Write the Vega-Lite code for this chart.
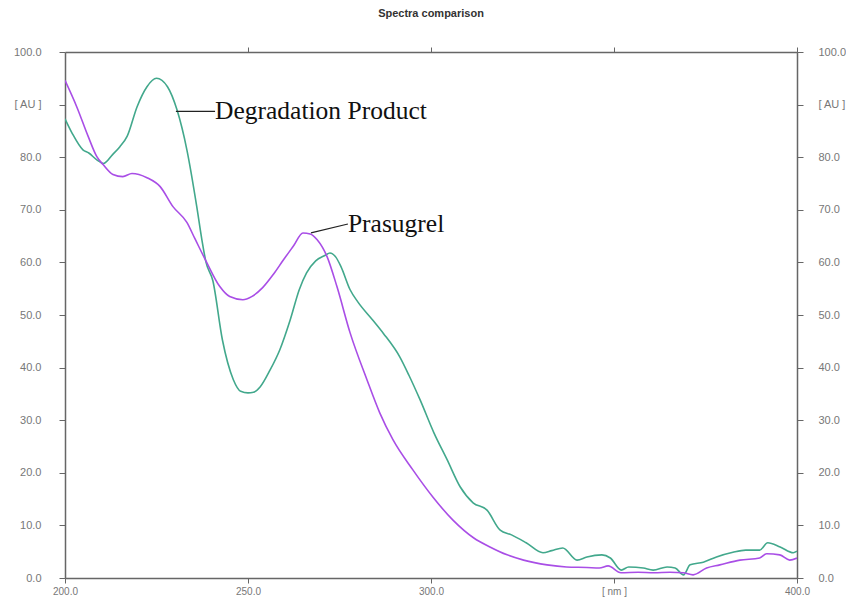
{
  "$schema": "https://vega.github.io/schema/vega-lite/v6.json",
  "width": 732,
  "height": 526,
  "autosize": {"type": "none"},
  "padding": {"left": 65, "top": 52, "right": 49, "bottom": 27},
  "background": "white",
  "title": {"text": "Spectra comparison", "fontSize": 11, "fontWeight": "bold", "font": "Liberation Sans", "color": "#333333", "offset": 27, "anchor": "middle"},
  "config": {
    "view": {"stroke": null},
    "axis": {"grid": false, "domainColor": "#666666", "tickColor": "#666666", "domainWidth": 1.5, "tickWidth": 1, "tickSize": 6, "labelFont": "Liberation Sans", "labelFontSize": 11, "labelColor": "#777777", "title": null}
  },
  "datasets": {
    "spectra": [
      {"series": "Degradation Product", "nm": 200, "au": 87.3},
      {"series": "Degradation Product", "nm": 202, "au": 84.5},
      {"series": "Degradation Product", "nm": 204.9, "au": 81.4},
      {"series": "Degradation Product", "nm": 206.5, "au": 80.8},
      {"series": "Degradation Product", "nm": 208.7, "au": 79.5},
      {"series": "Degradation Product", "nm": 210.5, "au": 78.8},
      {"series": "Degradation Product", "nm": 213, "au": 80.5},
      {"series": "Degradation Product", "nm": 215, "au": 82},
      {"series": "Degradation Product", "nm": 217, "au": 84},
      {"series": "Degradation Product", "nm": 219.7, "au": 89.6},
      {"series": "Degradation Product", "nm": 222.4, "au": 93.4},
      {"series": "Degradation Product", "nm": 225, "au": 95},
      {"series": "Degradation Product", "nm": 228, "au": 93.4},
      {"series": "Degradation Product", "nm": 230.6, "au": 89},
      {"series": "Degradation Product", "nm": 233.3, "au": 81.4},
      {"series": "Degradation Product", "nm": 236, "au": 70.6},
      {"series": "Degradation Product", "nm": 237.4, "au": 64.3},
      {"series": "Degradation Product", "nm": 238.5, "au": 60.1},
      {"series": "Degradation Product", "nm": 240.4, "au": 56.5},
      {"series": "Degradation Product", "nm": 243, "au": 45.3},
      {"series": "Degradation Product", "nm": 246, "au": 37.7},
      {"series": "Degradation Product", "nm": 248, "au": 35.5},
      {"series": "Degradation Product", "nm": 250, "au": 35.2},
      {"series": "Degradation Product", "nm": 251.5, "au": 35.3},
      {"series": "Degradation Product", "nm": 253.3, "au": 36.3},
      {"series": "Degradation Product", "nm": 256, "au": 39.5},
      {"series": "Degradation Product", "nm": 258.7, "au": 43.4},
      {"series": "Degradation Product", "nm": 261.5, "au": 49},
      {"series": "Degradation Product", "nm": 264, "au": 54.8},
      {"series": "Degradation Product", "nm": 266, "au": 58},
      {"series": "Degradation Product", "nm": 268.5, "au": 60.3},
      {"series": "Degradation Product", "nm": 271, "au": 61.3},
      {"series": "Degradation Product", "nm": 272.4, "au": 61.8},
      {"series": "Degradation Product", "nm": 274, "au": 61},
      {"series": "Degradation Product", "nm": 275.4, "au": 59.2},
      {"series": "Degradation Product", "nm": 277.9, "au": 54.8},
      {"series": "Degradation Product", "nm": 280, "au": 52.5},
      {"series": "Degradation Product", "nm": 284, "au": 49.1},
      {"series": "Degradation Product", "nm": 287, "au": 46.5},
      {"series": "Degradation Product", "nm": 291.5, "au": 42},
      {"series": "Degradation Product", "nm": 294, "au": 38.5},
      {"series": "Degradation Product", "nm": 297, "au": 33.9},
      {"series": "Degradation Product", "nm": 300.8, "au": 27.6},
      {"series": "Degradation Product", "nm": 304.4, "au": 22.5},
      {"series": "Degradation Product", "nm": 308, "au": 17.3},
      {"series": "Degradation Product", "nm": 311.5, "au": 14.3},
      {"series": "Degradation Product", "nm": 315.3, "au": 12.9},
      {"series": "Degradation Product", "nm": 318.9, "au": 9.1},
      {"series": "Degradation Product", "nm": 322, "au": 8.2},
      {"series": "Degradation Product", "nm": 326, "au": 6.7},
      {"series": "Degradation Product", "nm": 330.6, "au": 4.8},
      {"series": "Degradation Product", "nm": 333, "au": 5.2},
      {"series": "Degradation Product", "nm": 336, "au": 5.7},
      {"series": "Degradation Product", "nm": 339.9, "au": 3.4},
      {"series": "Degradation Product", "nm": 342.6, "au": 4},
      {"series": "Degradation Product", "nm": 346.7, "au": 4.4},
      {"series": "Degradation Product", "nm": 349, "au": 3.8},
      {"series": "Degradation Product", "nm": 352, "au": 1.5},
      {"series": "Degradation Product", "nm": 354, "au": 2.1},
      {"series": "Degradation Product", "nm": 358, "au": 1.9},
      {"series": "Degradation Product", "nm": 360.7, "au": 1.5},
      {"series": "Degradation Product", "nm": 364.5, "au": 2.1},
      {"series": "Degradation Product", "nm": 366.7, "au": 1.9},
      {"series": "Degradation Product", "nm": 369, "au": 0.6},
      {"series": "Degradation Product", "nm": 370.8, "au": 2.5},
      {"series": "Degradation Product", "nm": 374.4, "au": 3.0},
      {"series": "Degradation Product", "nm": 378, "au": 4},
      {"series": "Degradation Product", "nm": 382.5, "au": 4.9},
      {"series": "Degradation Product", "nm": 386, "au": 5.3},
      {"series": "Degradation Product", "nm": 389.8, "au": 5.3},
      {"series": "Degradation Product", "nm": 392, "au": 6.7},
      {"series": "Degradation Product", "nm": 395.4, "au": 5.9},
      {"series": "Degradation Product", "nm": 399, "au": 4.8},
      {"series": "Degradation Product", "nm": 400, "au": 5.1},
      {"series": "Prasugrel", "nm": 200, "au": 94.6},
      {"series": "Prasugrel", "nm": 203.2, "au": 89.6},
      {"series": "Prasugrel", "nm": 206.3, "au": 84},
      {"series": "Prasugrel", "nm": 208.7, "au": 80.1},
      {"series": "Prasugrel", "nm": 210.4, "au": 78.6},
      {"series": "Prasugrel", "nm": 213.1, "au": 76.7},
      {"series": "Prasugrel", "nm": 215.8, "au": 76.3},
      {"series": "Prasugrel", "nm": 218.3, "au": 76.9},
      {"series": "Prasugrel", "nm": 222.4, "au": 76.1},
      {"series": "Prasugrel", "nm": 226, "au": 74.4},
      {"series": "Prasugrel", "nm": 229.5, "au": 70.6},
      {"series": "Prasugrel", "nm": 233.3, "au": 67.6},
      {"series": "Prasugrel", "nm": 235.5, "au": 64.5},
      {"series": "Prasugrel", "nm": 238.5, "au": 60.3},
      {"series": "Prasugrel", "nm": 242.3, "au": 55.4},
      {"series": "Prasugrel", "nm": 245, "au": 53.5},
      {"series": "Prasugrel", "nm": 248.6, "au": 52.9},
      {"series": "Prasugrel", "nm": 251, "au": 53.5},
      {"series": "Prasugrel", "nm": 254, "au": 55.2},
      {"series": "Prasugrel", "nm": 257, "au": 57.8},
      {"series": "Prasugrel", "nm": 259.7, "au": 60.5},
      {"series": "Prasugrel", "nm": 262.5, "au": 63.2},
      {"series": "Prasugrel", "nm": 265, "au": 65.6},
      {"series": "Prasugrel", "nm": 267, "au": 65.4},
      {"series": "Prasugrel", "nm": 268.9, "au": 64.3},
      {"series": "Prasugrel", "nm": 271.6, "au": 61.1},
      {"series": "Prasugrel", "nm": 274.3, "au": 55.4},
      {"series": "Prasugrel", "nm": 277.9, "au": 46.6},
      {"series": "Prasugrel", "nm": 282.5, "au": 37.7},
      {"series": "Prasugrel", "nm": 286, "au": 31.4},
      {"series": "Prasugrel", "nm": 289.6, "au": 26.3},
      {"series": "Prasugrel", "nm": 295, "au": 20.6},
      {"series": "Prasugrel", "nm": 300.5, "au": 15.4},
      {"series": "Prasugrel", "nm": 306, "au": 11},
      {"series": "Prasugrel", "nm": 311.7, "au": 7.6},
      {"series": "Prasugrel", "nm": 316.1, "au": 5.9},
      {"series": "Prasugrel", "nm": 320.8, "au": 4.4},
      {"series": "Prasugrel", "nm": 325.3, "au": 3.4},
      {"series": "Prasugrel", "nm": 331.7, "au": 2.5},
      {"series": "Prasugrel", "nm": 337, "au": 2.1},
      {"series": "Prasugrel", "nm": 342.6, "au": 2.0},
      {"series": "Prasugrel", "nm": 346, "au": 1.9},
      {"series": "Prasugrel", "nm": 348.4, "au": 2.3},
      {"series": "Prasugrel", "nm": 351.9, "au": 1.0},
      {"series": "Prasugrel", "nm": 356.6, "au": 1.1},
      {"series": "Prasugrel", "nm": 360.9, "au": 1.0},
      {"series": "Prasugrel", "nm": 365.3, "au": 1.1},
      {"series": "Prasugrel", "nm": 368.9, "au": 1.0},
      {"series": "Prasugrel", "nm": 371.6, "au": 0.6},
      {"series": "Prasugrel", "nm": 375.3, "au": 1.9},
      {"series": "Prasugrel", "nm": 378.9, "au": 2.5},
      {"series": "Prasugrel", "nm": 384.4, "au": 3.4},
      {"series": "Prasugrel", "nm": 389.8, "au": 3.8},
      {"series": "Prasugrel", "nm": 391.7, "au": 4.6},
      {"series": "Prasugrel", "nm": 395.3, "au": 4.4},
      {"series": "Prasugrel", "nm": 398, "au": 3.4},
      {"series": "Prasugrel", "nm": 400, "au": 3.8}
    ],
    "labels": [
      {"label": "Degradation Product", "nm": 241, "au": 88.7, "nm0": 230.3, "au0": 88.7},
      {"label": "Prasugrel", "nm": 277.3, "au": 67.3, "nm0": 267.2, "au0": 65.6}
    ]
  },
  "layer": [
    {
      "data": {"name": "spectra"},
      "mark": {"type": "line", "strokeWidth": 1.6, "clip": true, "interpolate": "monotone"},
      "encoding": {
        "x": {"field": "nm", "type": "quantitative", "scale": {"domain": [200, 400], "nice": false, "zero": false},
              "axis": {"orient": "bottom", "values": [200, 250, 300, 350, 400], "labelExpr": "datum.value == 350 ? '[ nm ]' : format(datum.value, '.1f')", "labelFlush": false, "labelOverlap": false, "labelBound": false, "labelPadding": 3, "tickSize": 5, "labelFontSize": 10}},
        "y": {"field": "au", "type": "quantitative", "scale": {"domain": [0, 100], "nice": false},
              "axis": {"orient": "left", "values": [0, 10, 20, 30, 40, 50, 60, 70, 80, 90, 100], "labelExpr": "datum.value == 90 ? '[ AU ]' : format(datum.value, '.1f')", "labelPadding": 18, "labelOverlap": false, "labelBound": false}},
        "color": {"field": "series", "type": "nominal", "scale": {"domain": ["Degradation Product", "Prasugrel"], "range": ["#42a88c", "#a94ee6"]}, "legend": null}
      }
    },
    {
      "data": {"name": "labels"},
      "mark": {"type": "text", "align": "left", "baseline": "middle", "font": "Liberation Serif", "fontSize": 25.5, "color": "#111111"},
      "encoding": {
        "x": {"field": "nm", "type": "quantitative", "axis": {"orient": "top", "values": [250, 300, 350, 400], "labels": false, "tickSize": 5}},
        "y": {"field": "au", "type": "quantitative", "axis": {"orient": "right", "values": [0, 10, 20, 30, 40, 50, 60, 70, 80, 90, 100], "labelExpr": "datum.value == 90 ? '[ AU ]' : format(datum.value, '.1f')", "labelPadding": 15, "labelOverlap": false, "labelBound": false}},
        "text": {"field": "label"}
      }
    },
    {
      "data": {"name": "labels"},
      "mark": {"type": "rule", "color": "#222222", "strokeWidth": 1.2},
      "encoding": {
        "x": {"field": "nm0", "type": "quantitative", "axis": null},
        "x2": {"field": "nm"},
        "y": {"field": "au0", "type": "quantitative", "axis": null},
        "y2": {"field": "au"}
      }
    }
  ],
  "resolve": {"axis": {"x": "independent", "y": "independent"}}
}
